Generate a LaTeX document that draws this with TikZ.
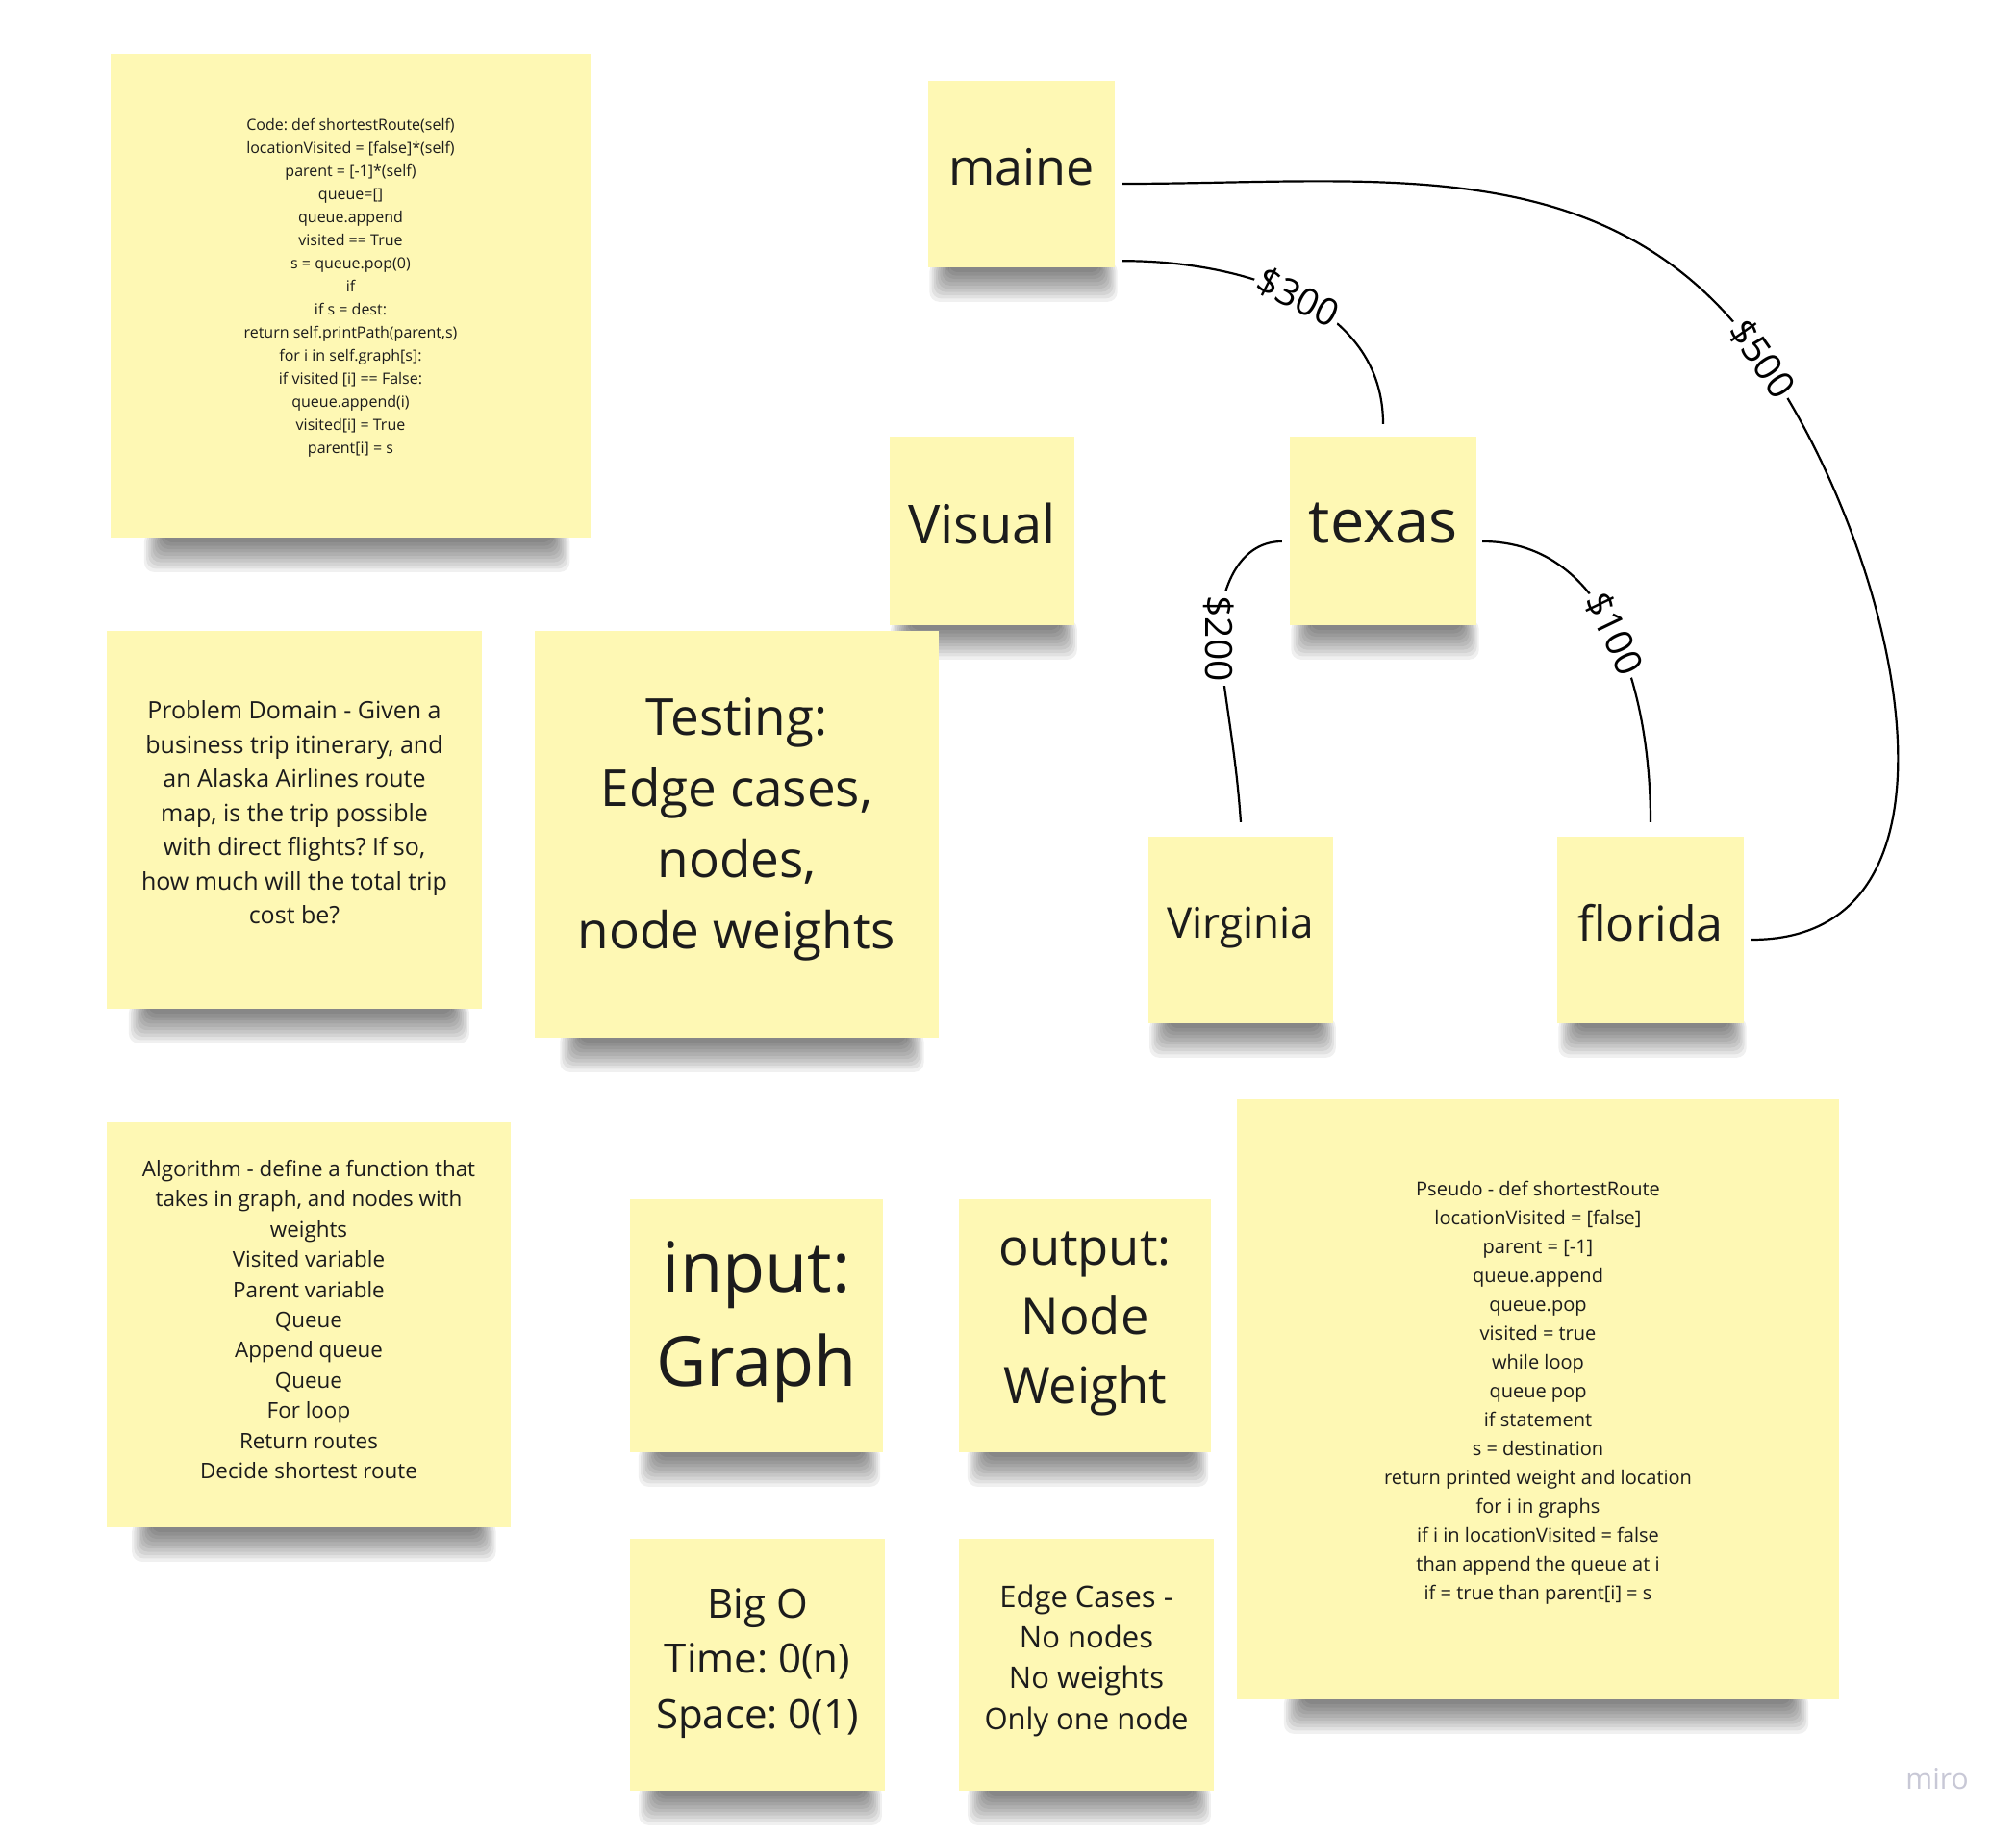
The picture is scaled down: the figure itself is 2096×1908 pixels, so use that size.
\documentclass[tikz,border=0pt]{standalone}
\usepackage{fontspec}
\setmainfont{Open Sans}
\usepackage{tikz}
\usetikzlibrary{calc, backgrounds}
\definecolor{notefill}{RGB}{254,248,180}
\definecolor{inkgray}{RGB}{28,28,28}
\definecolor{mirogray}{RGB}{200,200,214}
\frenchspacing

\begin{document}
\begin{tikzpicture}[x=1pt, y=1pt,
  sticky/.style={fill=notefill, inner sep=0pt, align=center, text=inkgray, text depth=16pt},
  edge/.style={line width=2.2pt, black},
  cost/.style={fill=white, inner sep=4pt, text=black, font=\fontsize{39}{44}\selectfont}]
\useasboundingbox (0,0) rectangle (2096,-1908);
% left column
\node[sticky, text depth=20pt, minimum width=499pt, minimum height=503pt, font=\fontsize{16}{24}\selectfont] (code) at (364.5,-307.5) {Code: def shortestRoute(self)\\locationVisited = [false]*(self)\\parent = [-1]*(self)\\queue=[]\\queue.append\\visited == True\\s = queue.pop(0)\\if\\if s = dest:\\return self.printPath(parent,s)\\for i in self.graph[s]:\\if visited [i] == False:\\queue.append(i)\\visited[i] = True\\parent[i] = s};
\node[sticky, minimum width=390pt, minimum height=393pt, font=\fontsize{25}{35.5}\selectfont] (problem) at (306,-852.5) {Problem Domain - Given a\\business trip itinerary, and\\an Alaska Airlines route\\map, is the trip possible\\with direct flights? If so,\\how much will the total trip\\cost be?};
\node[sticky, text depth=11pt, minimum width=420pt, minimum height=421pt, font=\fontsize{22.4}{31.4}\selectfont] (algorithm) at (321,-1377.5) {Algorithm - define a function that\\takes in graph, and nodes with\\weights\\Visited variable\\Parent variable\\Queue\\Append queue\\Queue\\For loop\\Return routes\\Decide shortest route};
% middle
\node[sticky, minimum width=192pt, minimum height=196pt, font=\fontsize{56}{66}\selectfont] (visual) at (1021,-552) {Visual};
\node[sticky, text depth=22pt, minimum width=420pt, minimum height=423pt, font=\fontsize{53}{74}\selectfont] (testing) at (766,-867.5) {Testing:\\Edge cases,\\nodes,\\node weights};
\node[sticky, text depth=24pt, minimum width=263pt, minimum height=263pt, font=\fontsize{72}{98}\selectfont] (input) at (786.5,-1378.5) {input:\\Graph};
\node[sticky, minimum width=262pt, minimum height=263pt, font=\fontsize{52.5}{72}\selectfont] (output) at (1128,-1378.5) {output:\\Node\\Weight};
\node[sticky, text depth=13pt, minimum width=265pt, minimum height=262pt, font=\fontsize{42}{57.5}\selectfont] (bigo) at (787.5,-1731) {Big O\\Time: 0(n)\\Space: 0(1)};
\node[sticky, minimum width=265pt, minimum height=262pt, font=\fontsize{31}{42.4}\selectfont] (edgecases) at (1129.5,-1731) {Edge Cases -\\No nodes\\No weights\\Only one node};
% route map
\node[sticky, minimum width=194pt, minimum height=194pt, font=\fontsize{52}{62}\selectfont] (maine) at (1062,-181) {maine};
\node[sticky, minimum width=194pt, minimum height=196pt, font=\fontsize{63}{73}\selectfont] (texas) at (1438,-552) {texas};
\node[sticky, minimum width=192pt, minimum height=194pt, font=\fontsize{44}{54}\selectfont] (virginia) at (1290,-967) {Virginia};
\node[sticky, minimum width=194pt, minimum height=194pt, font=\fontsize{50}{60}\selectfont] (florida) at (1716,-967) {florida};
\node[sticky, text depth=18pt, minimum width=626pt, minimum height=624pt, font=\fontsize{20}{30}\selectfont] (pseudo) at (1599,-1455) {Pseudo - def shortestRoute\\locationVisited = [false]\\parent = [-1]\\queue.append\\queue.pop\\visited = true\\while loop\\queue pop\\if statement\\s = destination\\return printed weight and location\\for i in graphs\\if i in locationVisited = false\\than append the queue at i\\if = true than parent[i] = s};
\node[text=mirogray, font=\fontsize{30}{36}\selectfont] (logo) at (2014,-1850) {miro};
%
\draw[edge] ([xshift=8pt, yshift=7pt]maine.south east) to[out=0, in=90] node[cost, midway, sloped] (c300) {\$300} ([yshift=13pt]texas.north);
\coordinate (via500) at (1832,-373);
\draw[edge] ([xshift=8pt, yshift=-10pt]maine.east) to[out=0, in=125] (via500) to[out=-55, in=0, looseness=1.04] ([xshift=8pt, yshift=-10pt]florida.east);
\node[cost, rotate=-55] (c500) at (via500) {\$500};
\coordinate (via200) at (1267,-664);
\draw[edge] ([xshift=-8pt, yshift=-11pt]texas.west) to[out=180, in=90] (via200) to[out=-84, in=94] ([yshift=15pt]virginia.north);
\node[cost, rotate=-90] (c200) at (via200) {\$200};
\draw[edge] ([xshift=6pt, yshift=-11pt]texas.east) to[out=0, in=90] node[cost, midway, sloped] (c100) {\$100} ([yshift=15pt]florida.north);
% shadows under the notes
\begin{pgfonlayer}{background}
\fill[white] (0,0) rectangle (2096,-1908);
\foreach \n in {code,problem,algorithm,visual,testing,input,output,bigo,edgecases,maine,texas,virginia,florida,pseudo}
  \foreach \k in {0,...,9}
    \fill[black, opacity=0.06, rounded corners=10pt] ($(\n.south west)!0.11!(\n.south east)+(-2.2*\k,6)$) rectangle ($(\n.south west)!0.92!(\n.south east)+(2*\k,-5-3.4*\k)$);
\end{pgfonlayer}
\end{tikzpicture}
\end{document}
